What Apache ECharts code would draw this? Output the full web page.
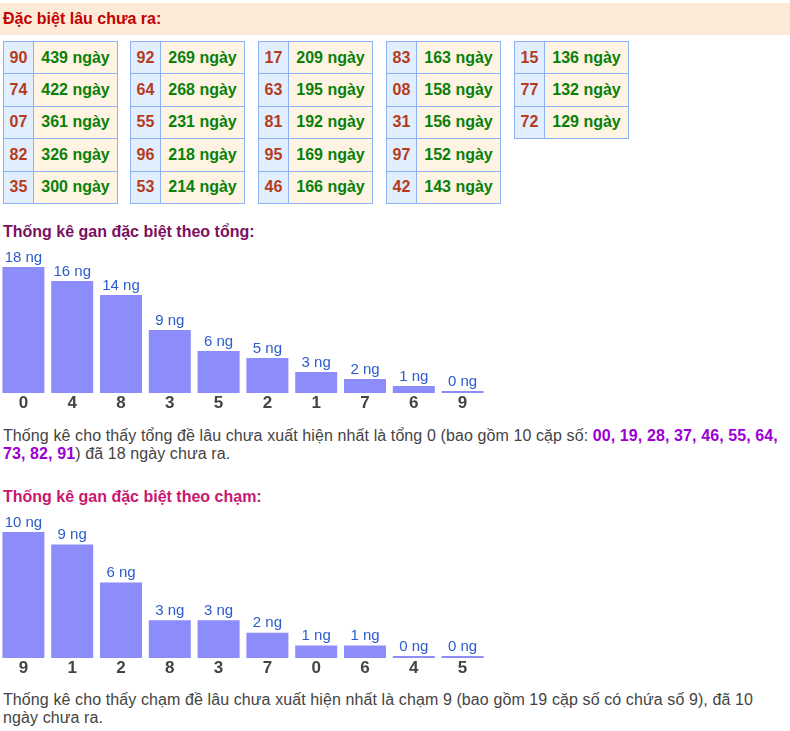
<!DOCTYPE html>
<html>
<head>
<meta charset="utf-8">
<script src="https://cdn.jsdelivr.net/npm/echarts@6/dist/echarts.min.js"></script>
<style>
  html, body { margin:0; padding:0; background:#fff; }
  body { width:790px; height:731px; position:relative; overflow:hidden; font-family:"Liberation Sans", Arial, sans-serif; }
  .band { position:absolute; left:0; top:3px; width:790px; height:32px; background:#fdebd8; }
  .title { position:absolute; left:3px; font-weight:bold; font-size:16px; white-space:nowrap; }
  .tbl { position:absolute; top:41px; width:113px; height:161px; padding:1px; background:#8db1f7;
         display:grid; grid-template-columns:29px 83px; grid-template-rows:repeat(5, 31.4px); gap:1px; }
  .c1 { background:#e1eefe; color:#b43c1c; font-weight:bold; font-size:16px; display:flex; align-items:center; justify-content:center; }
  .c2 { background:#fff4e3; color:#0a800a; font-weight:bold; font-size:16px; display:flex; align-items:center; justify-content:center; }
  .para { position:absolute; left:3px; width:784px; font-size:16px; line-height:18px; color:#444; letter-spacing:0.1px; }
  .para b { color:#9c00d3; }
  .chart { position:absolute; left:-1px; width:500px; height:185px; }
</style>
</head>
<body>
<div class="band"></div>
<div class="title" style="top:3px;line-height:32px;color:#c40000;">Đặc biệt lâu chưa ra:</div>
<div id="tables"></div>
<div class="title" style="top:222px;line-height:20px;color:#7b1060;">Thống kê gan đặc biệt theo tổng:</div>
<div id="chart1" class="chart" style="top:240px;"></div>
<div id="para1" class="para" style="top:427px;"></div>
<div class="title" style="top:487px;line-height:20px;color:#c8176e;">Thống kê gan đặc biệt theo chạm:</div>
<div id="chart2" class="chart" style="top:505px;"></div>
<div id="para2" class="para" style="top:691px;"></div>
<script>
// ---- data ----
const tableNumbers = ["90","74","07","82","35","92","64","55","96","53","17","63","81","95","46","83","08","31","97","42","15","77","72"];
const tableDays = [439,422,361,326,300,269,268,231,218,214,209,195,192,169,166,163,158,156,152,143,136,132,129];
const tongCategories = ["0","4","8","3","5","2","1","7","6","9"];
const tongValues = [18,16,14,9,6,5,3,2,1,0];
const chamCategories = ["9","1","2","8","3","7","0","6","4","5"];
const chamValues = [10,9,6,3,3,2,1,1,0,0];
const tongPairs = ["00","19","28","37","46","55","64","73","82","91"];
const tongBest = "0", tongDays = 18;
const chamBest = "9", chamPairsCount = 19, chamDays = 10;

// ---- tables ----
const tableLefts = [3, 130, 258, 386, 514];
const tablesEl = document.getElementById('tables');
for (let t = 0; t * 5 < tableNumbers.length; t++) {
  const div = document.createElement('div');
  div.className = 'tbl';
  div.style.left = tableLefts[t] + 'px';
  const rows = Math.min(5, tableNumbers.length - t * 5);
  div.style.height = (rows * 31.4 + (rows - 1)) + 'px';
  div.style.gridTemplateRows = 'repeat(' + rows + ', 31.4px)';
  for (let r = 0; r < rows; r++) {
    const i = t * 5 + r;
    const a = document.createElement('div'); a.className = 'c1'; a.textContent = tableNumbers[i];
    const b = document.createElement('div'); b.className = 'c2'; b.textContent = tableDays[i] + ' ngày';
    div.appendChild(a); div.appendChild(b);
  }
  tablesEl.appendChild(div);
}

// ---- paragraphs ----
document.getElementById('para1').innerHTML =
  'Thống kê cho thấy tổng đề lâu chưa xuất hiện nhất là tổng ' + tongBest +
  ' (bao gồm ' + tongPairs.length + ' cặp số: <b>' + tongPairs.join(', ') + '</b>) đã ' + tongDays + ' ngày chưa ra.';
document.getElementById('para2').innerHTML =
  'Thống kê cho thấy chạm đề lâu chưa xuất hiện nhất là chạm ' + chamBest +
  ' (bao gồm ' + chamPairsCount + ' cặp số có chứa số ' + chamBest + '), đã ' + chamDays + ' ngày chưa ra.';

// ---- charts ----
function makeChart(id, cats, vals) {
  const chart = echarts.init(document.getElementById(id), null, { renderer: 'canvas' });
  chart.setOption({
    animation: false,
    grid: { left: 0, top: 27, width: 488, height: 126, containLabel: false },
    xAxis: {
      type: 'category', data: cats,
      axisLine: { show: false }, axisTick: { show: false },
      axisLabel: { color: '#444', fontSize: 17, fontWeight: 'bold', margin: 2, fontFamily: 'Liberation Sans' }
    },
    yAxis: { type: 'value', min: 0, max: Math.max.apply(null, vals), show: false, splitLine: { show: false } },
    series: [{
      type: 'bar', data: vals, barWidth: 42, barMinHeight: 2,
      itemStyle: { color: '#8c8cfa' },
      label: { show: true, position: 'top', distance: 2, formatter: '{c} ng',
               color: '#2c5ccc', fontSize: 15, fontFamily: 'Liberation Sans' }
    }]
  });
}
makeChart('chart1', tongCategories, tongValues);
makeChart('chart2', chamCategories, chamValues);
</script>
</body>
</html>
